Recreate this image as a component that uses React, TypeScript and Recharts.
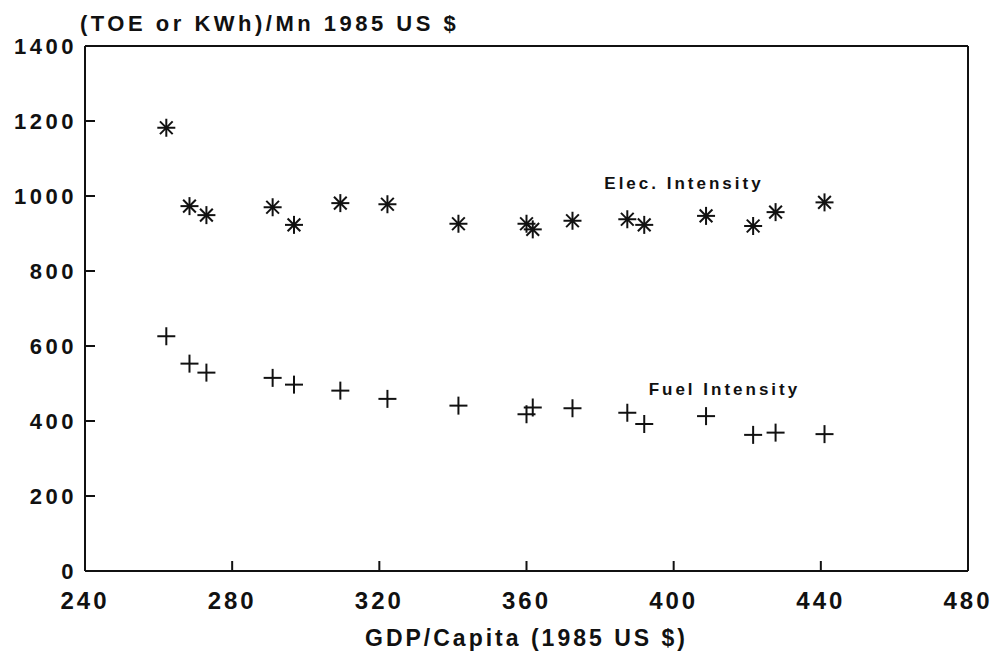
import React from "react";
import {
  ScatterChart,
  Scatter,
  XAxis,
  YAxis,
  ReferenceLine,
  ReferenceDot,
} from "recharts";

const GDP = [
  262.1, 268.4, 273.0, 291.0, 296.8, 309.4, 322.2, 341.5, 360.0, 361.7, 372.5,
  387.4, 392.0, 408.8, 421.6, 427.7, 441.0,
];
const ELEC = [
  1182, 973, 949, 970, 923, 981, 978, 926, 926, 911, 934, 938, 923, 947, 920,
  957, 983,
];
const FUEL = [
  626, 553, 529, 515, 497, 481, 459, 441, 418, 436, 434, 422, 392, 413, 363,
  369, 365,
];
const X_TICKS = [240, 280, 320, 360, 400, 440, 480];
const Y_TICKS = [0, 200, 400, 600, 800, 1000, 1200, 1400];

const ELEC_LABEL = { x: 402.8, y: 1036, text: "Elec. Intensity" };
const FUEL_LABEL = { x: 413.8, y: 485, text: "Fuel Intensity" };

const elecData = GDP.map((x, i) => ({ x, y: ELEC[i] }));
const fuelData = GDP.map((x, i) => ({ x, y: FUEL[i] }));

const FONT = "'Liberation Sans', Arial, Helvetica, sans-serif";
const INK = "#111";

const Asterisk = (props: any) => {
  const { cx, cy } = props;
  const r = 9;
  const d = r * 0.7071;
  return (
    <g stroke={INK} strokeWidth={2}>
      <line x1={cx - r} y1={cy} x2={cx + r} y2={cy} />
      <line x1={cx} y1={cy - r} x2={cx} y2={cy + r} />
      <line x1={cx - d} y1={cy - d} x2={cx + d} y2={cy + d} />
      <line x1={cx - d} y1={cy + d} x2={cx + d} y2={cy - d} />
      <circle cx={cx} cy={cy} r={2.2} fill={INK} stroke="none" />
    </g>
  );
};

const Plus = (props: any) => {
  const { cx, cy } = props;
  const r = 9;
  return (
    <g stroke={INK} strokeWidth={2}>
      <line x1={cx - r} y1={cy} x2={cx + r} y2={cy} />
      <line x1={cx} y1={cy - r} x2={cx} y2={cy + r} />
    </g>
  );
};

const Y_GAP = 8;
const X_GAP = 21;

const YTick = (props: any) => {
  const { x, y, payload } = props;
  return (
    <g>
      <text
        x={x}
        y={y}
        dy="0.355em"
        textAnchor="end"
        fontFamily={FONT}
        fontWeight="bold"
        fontSize={22}
        letterSpacing={3.5}
        fill={INK}
      >
        {payload.value}
      </text>
      <line
        x1={x + Y_GAP}
        y1={y}
        x2={x + Y_GAP + 10}
        y2={y}
        stroke={INK}
        strokeWidth={2}
      />
    </g>
  );
};

const XTick = (props: any) => {
  const { x, y, payload } = props;
  return (
    <g>
      <text
        x={x}
        y={y}
        dy="0.71em"
        textAnchor="middle"
        fontFamily={FONT}
        fontWeight="bold"
        fontSize={24}
        letterSpacing={3}
        fill={INK}
      >
        {payload.value}
      </text>
      <line
        x1={x}
        y1={y - X_GAP}
        x2={x}
        y2={y - X_GAP - 10}
        stroke={INK}
        strokeWidth={2}
      />
    </g>
  );
};

const annotation = (text: string) => (props: any) => {
  const { viewBox } = props;
  const cx = viewBox.x + (viewBox.width || 0) / 2;
  const cy = viewBox.y + (viewBox.height || 0) / 2;
  return (
    <text
      x={cx}
      y={cy}
      dy="0.355em"
      textAnchor="middle"
      fontFamily={FONT}
      fontWeight="bold"
      fontSize={17}
      letterSpacing={3}
      fill={INK}
    >
      {text}
    </text>
  );
};

export default function App() {
  return (
    <div style={{ position: "absolute", left: 0, top: 0, background: "#fff" }}>
      <ScatterChart
        width={999}
        height={652}
        margin={{ top: 46, right: 31, bottom: 0, left: 0 }}
      >
        <XAxis
          type="number"
          dataKey="x"
          domain={[240, 480]}
          ticks={X_TICKS}
          height={81}
          tickSize={0}
          tickMargin={X_GAP}
          tickLine={false}
          tick={<XTick />}
          axisLine={{ stroke: INK, strokeWidth: 2 }}
          allowDataOverflow
          label={{
            content: (p: any) => (
              <text
                x={p.viewBox.x + p.viewBox.width / 2}
                y={p.viewBox.y + 75}
                textAnchor="middle"
                fontFamily={FONT}
                fontWeight="bold"
                fontSize={23}
                letterSpacing={3}
                fill={INK}
              >
                GDP/Capita (1985 US $)
              </text>
            ),
          }}
        />
        <YAxis
          type="number"
          dataKey="y"
          domain={[0, 1400]}
          ticks={Y_TICKS}
          width={85}
          tickSize={0}
          tickMargin={Y_GAP}
          tickLine={false}
          tick={<YTick />}
          axisLine={{ stroke: INK, strokeWidth: 2 }}
          allowDataOverflow
          label={{
            content: (p: any) => (
              <text
                x={p.viewBox.x + p.viewBox.width - 5}
                y={p.viewBox.y - 15}
                textAnchor="start"
                fontFamily={FONT}
                fontWeight="bold"
                fontSize={22}
                letterSpacing={3.5}
                fill={INK}
              >
                (TOE or KWh)/Mn 1985 US $
              </text>
            ),
          }}
        />
        <ReferenceLine y={1400} stroke={INK} strokeWidth={2} />
        <ReferenceLine x={480} stroke={INK} strokeWidth={2} />
        <Scatter
          data={elecData}
          shape={<Asterisk />}
          isAnimationActive={false}
        />
        <Scatter data={fuelData} shape={<Plus />} isAnimationActive={false} />
        <ReferenceDot
          x={ELEC_LABEL.x}
          y={ELEC_LABEL.y}
          r={0}
          fill="none"
          stroke="none"
          label={{ content: annotation(ELEC_LABEL.text) }}
        />
        <ReferenceDot
          x={FUEL_LABEL.x}
          y={FUEL_LABEL.y}
          r={0}
          fill="none"
          stroke="none"
          label={{ content: annotation(FUEL_LABEL.text) }}
        />
      </ScatterChart>
    </div>
  );
}
